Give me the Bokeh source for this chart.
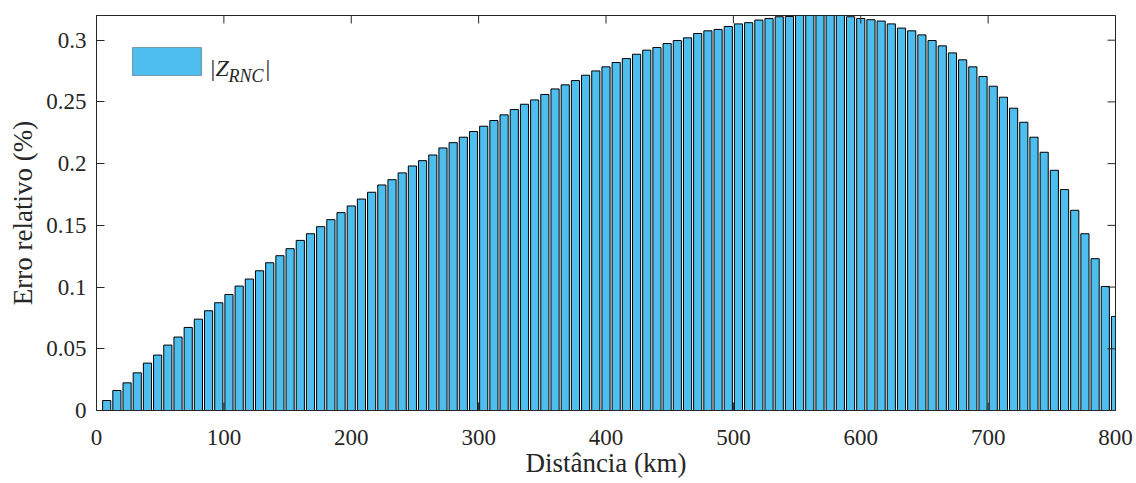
from math import pi
from bokeh.plotting import figure
from bokeh.models import (LinearAxis, FixedTicker, Range1d, BoxAnnotation,
                          Label, ColumnDataSource)
from bokeh.embed import file_html
from bokeh.resources import INLINE

# ---------------- data ----------------
distance_km = [8, 16, 24, 32, 40, 48, 56, 64, 72, 80,
               88, 96, 104, 112, 120, 128, 136, 144, 152, 160,
               168, 176, 184, 192, 200, 208, 216, 224, 232, 240,
               248, 256, 264, 272, 280, 288, 296, 304, 312, 320,
               328, 336, 344, 352, 360, 368, 376, 384, 392, 400,
               408, 416, 424, 432, 440, 448, 456, 464, 472, 480,
               488, 496, 504, 512, 520, 528, 536, 544, 552, 560,
               568, 576, 584, 592, 600, 608, 616, 624, 632, 640,
               648, 656, 664, 672, 680, 688, 696, 704, 712, 720,
               728, 736, 744, 752, 760, 768, 776, 784, 792, 800]

erro_relativo = [0.0081, 0.0162, 0.0224, 0.0305, 0.0384, 0.0449, 0.0530, 0.0595, 0.0673, 0.0740,
                 0.0808, 0.0873, 0.0940, 0.1008, 0.1065, 0.1132, 0.1197, 0.1254, 0.1311, 0.1378,
                 0.1432, 0.1489, 0.1546, 0.1603, 0.1657, 0.1713, 0.1768, 0.1827, 0.1870, 0.1925,
                 0.1981, 0.2024, 0.2070, 0.2127, 0.2170, 0.2214, 0.2260, 0.2303, 0.2349, 0.2395,
                 0.2438, 0.2481, 0.2516, 0.2560, 0.2605, 0.2638, 0.2673, 0.2716, 0.2751, 0.2784,
                 0.2819, 0.2851, 0.2886, 0.2919, 0.2941, 0.2973, 0.2997, 0.3019, 0.3054, 0.3076,
                 0.3087, 0.3111, 0.3132, 0.3142, 0.3163, 0.3176, 0.3190, 0.3192, 0.3202, 0.3207,
                 0.3209, 0.3207, 0.3202, 0.3190, 0.3176, 0.3166, 0.3155, 0.3132, 0.3098, 0.3076,
                 0.3043, 0.2997, 0.2954, 0.2897, 0.2841, 0.2784, 0.2706, 0.2627, 0.2538, 0.2449,
                 0.2335, 0.2214, 0.2092, 0.1946, 0.1790, 0.1622, 0.1432, 0.1230, 0.1005, 0.0762]

x_ticks = [0, 100, 200, 300, 400, 500, 600, 700, 800]
y_ticks = [0, 0.05, 0.1, 0.15, 0.2, 0.25, 0.3]
y_tick_labels = ["0", "0.05", "0.1", "0.15", "0.2", "0.25", "0.3"]

series_name = "|Z_RNC|"
x_label = "Distância (km)"
y_label = "Erro relativo (%)"

X_MIN, X_MAX = 0, 800
Y_MIN, Y_MAX = 0, 0.32

# ---------------- styles ----------------
FONT = "Liberation Serif"
AX = "#262626"
BAR = "#4DBEEE"
TICK_LEN = 8

src = ColumnDataSource(dict(d=distance_km, v=erro_relativo))

p = figure(width=1136, height=483,
           x_range=Range1d(X_MIN, X_MAX), y_range=Range1d(Y_MIN, Y_MAX),
           output_backend="svg", toolbar_location=None,
           x_axis_location=None, y_axis_location=None,
           min_border_left=96, min_border_right=21,
           min_border_top=15, min_border_bottom=73)
p.grid.visible = False
p.outline_line_color = AX
p.outline_line_width = 1
p.background_fill_color = "white"
p.border_fill_color = "white"

# bottom ticks (drawn under the bars, as in the original)
p.ray(x=x_ticks, y=[Y_MIN] * len(x_ticks), length=TICK_LEN, length_units="screen",
      angle=pi / 2, line_color=AX, line_width=1)

p.vbar(x="d", top="v", bottom=0, width=6.4, source=src,
       fill_color=BAR, line_color="black", line_width=1)

# top and right inward ticks (box style)
p.ray(x=x_ticks, y=[Y_MAX] * len(x_ticks), length=TICK_LEN, length_units="screen",
      angle=-pi / 2, line_color=AX, line_width=1)
p.ray(x=[X_MAX] * len(y_ticks), y=y_ticks, length=TICK_LEN, length_units="screen",
      angle=pi, line_color=AX, line_width=1)


def style(ax, ticks):
    ax.ticker = FixedTicker(ticks=ticks)
    ax.minor_tick_in = 0
    ax.minor_tick_out = 0
    ax.axis_line_color = AX
    ax.axis_line_width = 1
    ax.major_tick_line_color = AX
    ax.major_tick_line_width = 1
    ax.major_label_text_font = FONT
    ax.major_label_text_color = AX
    ax.major_label_text_font_size = "23px"
    ax.axis_label_text_font = FONT
    ax.axis_label_text_font_size = "27px"
    ax.axis_label_text_font_style = "normal"
    ax.axis_label_text_color = AX


xb = LinearAxis()
style(xb, x_ticks)
xb.major_tick_in = 0
xb.major_tick_out = 0
xb.major_label_standoff = 19
xb.axis_label = x_label
xb.axis_label_standoff = 0
p.add_layout(xb, "below")

yl = LinearAxis()
style(yl, y_ticks)
yl.major_tick_in = TICK_LEN
yl.major_tick_out = 0
yl.major_label_overrides = {t: s for t, s in zip(y_ticks, y_tick_labels)}
yl.major_label_standoff = 10
yl.axis_label = y_label
yl.axis_label_standoff = 5
p.add_layout(yl, "left")

# ---------------- legend (manual, MATLAB style) ----------------
p.add_layout(BoxAnnotation(left=36, right=105, bottom=335, top=363,
                           left_units="screen", right_units="screen",
                           bottom_units="screen", top_units="screen",
                           fill_color=BAR, fill_alpha=1.0,
                           line_color="black", line_width=1.2,
                           level="annotation"))

bar_l = "|"
z_txt = series_name[1]
sub_txt = series_name[3:6]
p.add_layout(Label(x=114, y=343, x_units="screen", y_units="screen",
                   text=bar_l, text_font=FONT, text_font_size="24px",
                   text_color=AX, text_baseline="alphabetic"))
p.add_layout(Label(x=119, y=343, x_units="screen", y_units="screen",
                   text=z_txt, text_font=FONT, text_font_size="24px",
                   text_font_style="italic",
                   text_color=AX, text_baseline="alphabetic"))
p.add_layout(Label(x=132, y=335, x_units="screen", y_units="screen",
                   text=sub_txt, text_font=FONT, text_font_size="18px",
                   text_font_style="italic",
                   text_color=AX, text_baseline="alphabetic"))
p.add_layout(Label(x=169, y=343, x_units="screen", y_units="screen",
                   text=bar_l, text_font=FONT, text_font_size="24px",
                   text_color=AX, text_baseline="alphabetic"))

open("out.html", "w").write(file_html(p, INLINE))
